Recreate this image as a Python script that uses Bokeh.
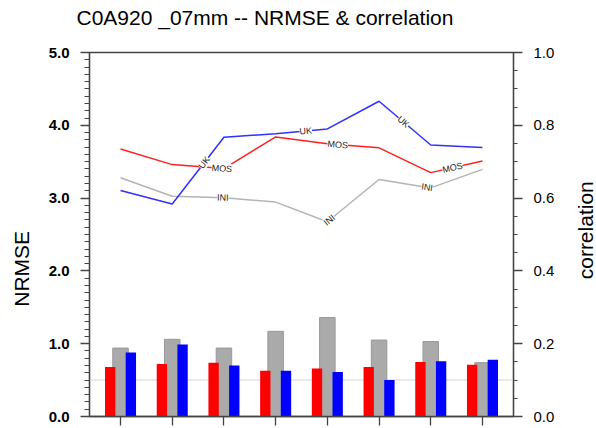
import math
import numpy as np
from bokeh.plotting import figure
from bokeh.layouts import row, column
from bokeh.models import (Range1d, LinearAxis, SingleIntervalTicker, FixedTicker,
                          PrintfTickFormatter, CustomJSTickFormatter, Span,
                          LabelSet, ColumnDataSource)
from bokeh.core.properties import value
from bokeh.transform import dodge
from bokeh.embed import file_html
from bokeh.resources import INLINE

# ---------------- data ----------------
categories = [1, 2, 3, 4, 5, 6, 7, 8]

# NRMSE (bars, left axis)
nrmse_mos = [0.68, 0.72, 0.74, 0.63, 0.66, 0.68, 0.75, 0.71]
nrmse_ini = [0.94, 1.06, 0.94, 1.17, 1.36, 1.05, 1.03, 0.74]
nrmse_uk = [0.88, 0.99, 0.70, 0.63, 0.61, 0.50, 0.76, 0.78]

# correlation (lines, right axis)
corr_mos = [0.735, 0.692, 0.681, 0.768, 0.749, 0.738, 0.670, 0.702]
corr_ini = [0.656, 0.605, 0.601, 0.589, 0.535, 0.651, 0.628, 0.679]
corr_uk = [0.621, 0.584, 0.767, 0.777, 0.790, 0.866, 0.746, 0.739]

# where the inline line labels sit (category coordinate)
label_pos_uk = [2.62, 4.58, 6.47]
label_pos_mos = [2.96, 5.20, 7.42]
label_pos_ini = [2.98, 5.04, 6.93]

title_text = "C0A920 _07mm -- NRMSE & correlation"
left_title = "NRMSE"
right_title = "correlation"

# ---------------- style ----------------
FONT = "Liberation Sans"
X0, X1 = 0.4, 8.6
FW, FH = 424, 364
BL, BR, BT, BB = 55, 50, 12, 11         # borders of the main plot
LW, RW, TH = 34, 32, 40                 # side strips
PW, PH = BL + FW + BR, BT + FH + BB
AX = "#444444"

p = figure(width=PW, height=PH,
           x_range=Range1d(X0, X1), y_range=Range1d(0, 5),
           output_backend="svg", toolbar_location=None, title=None,
           min_border_left=BL, min_border_right=BR,
           min_border_top=BT, min_border_bottom=BB)
p.extra_y_ranges = {"corr": Range1d(0, 1)}
p.xgrid.visible = False
p.ygrid.visible = False
p.outline_line_color = AX
p.outline_line_width = 1.3
p.background_fill_color = "white"
p.border_fill_color = "white"

# left axis
ya = p.yaxis[0]
ya.ticker = SingleIntervalTicker(interval=1, num_minor_ticks=10)
ya.formatter = PrintfTickFormatter(format="%.1f")
ya.major_tick_out = 9
ya.major_tick_in = 0
ya.minor_tick_out = 5
ya.minor_tick_in = 0
ya.major_label_standoff = 11
ya.major_label_text_font = FONT
ya.major_label_text_font_size = "15px"
ya.major_label_text_font_style = "bold"
ya.major_label_text_color = "black"
ya.axis_line_color = AX
ya.axis_line_width = 1.3
ya.major_tick_line_color = AX
ya.minor_tick_line_color = AX
ya.major_tick_line_width = 1.3

# right axis
ra = LinearAxis(y_range_name="corr",
                ticker=SingleIntervalTicker(interval=0.2, num_minor_ticks=4),
                formatter=PrintfTickFormatter(format="%.1f"))
ra.major_tick_out = 9
ra.major_tick_in = 0
ra.minor_tick_out = 4
ra.minor_tick_in = 0
ra.major_label_standoff = 11
ra.major_label_text_font = FONT
ra.major_label_text_font_size = "15px"
ra.major_label_text_color = "black"
ra.axis_line_color = AX
ra.axis_line_width = 1.3
ra.major_tick_line_color = AX
ra.minor_tick_line_color = AX
ra.major_tick_line_width = 1.3
p.add_layout(ra, "right")

# bottom axis (ticks only)
xa = p.xaxis[0]
xa.ticker = FixedTicker(ticks=categories, minor_ticks=[])
xa.formatter = CustomJSTickFormatter(code="return ''")
xa.major_tick_out = 9
xa.major_tick_in = 0
xa.major_label_standoff = 0
xa.major_label_text_font_size = "1px"
xa.axis_line_color = AX
xa.axis_line_width = 1.3
xa.major_tick_line_color = AX
xa.major_tick_line_width = 1.3

# reference line
p.add_layout(Span(location=0.5, dimension="width", line_color="#e2e2e2",
                  line_width=1.5, level="underlay"))

# bars
src = ColumnDataSource(dict(x=categories, mos=nrmse_mos, ini=nrmse_ini, uk=nrmse_uk))
p.vbar(x="x", top="ini", bottom=0, width=0.3, source=src,
       fill_color="#aaaaaa", line_color="#999999", line_width=1)
p.vbar(x=dodge("x", -0.2, range=p.x_range), top="mos", bottom=0, width=0.2,
       source=src, fill_color="#ff0000", line_color=None)
p.vbar(x=dodge("x", 0.2, range=p.x_range), top="uk", bottom=0, width=0.2,
       source=src, fill_color="#0000ff", line_color=None)

# lines
p.line(categories, corr_ini, y_range_name="corr", line_color="#b4b4b4", line_width=1.5)
p.line(categories, corr_mos, y_range_name="corr", line_color="#ff2020", line_width=1.5)
p.line(categories, corr_uk, y_range_name="corr", line_color="#3030ff", line_width=1.5)

# inline labels on lines
px_per_x = FW / (X1 - X0)
px_per_c = FH / 1.0


def label_rows(name, series, positions):
    xs, ys, ts, angs = [], [], [], []
    for xp in positions:
        i = min(int(math.floor(xp)) - 1, len(series) - 2)
        y = float(np.interp(xp, categories, series))
        dy = (series[i + 1] - series[i]) * px_per_c
        dx = 1.0 * px_per_x
        xs.append(xp)
        ys.append(y)
        ts.append(name)
        angs.append(math.atan2(dy, dx))
    return xs, ys, ts, angs


lx, ly, lt, la = [], [], [], []
for nm, ser, pos in (("UK", corr_uk, label_pos_uk),
                     ("MOS", corr_mos, label_pos_mos),
                     ("INI", corr_ini, label_pos_ini)):
    a, b, c, d = label_rows(nm, ser, pos)
    lx += a; ly += b; lt += c; la += d

lsrc = ColumnDataSource(dict(x=lx, y=ly, text=lt, angle=la))
p.add_layout(LabelSet(x="x", y="y", text="text", angle="angle", source=lsrc,
                      y_range_name="corr", text_align="center",
                      text_baseline="middle", text_font_size=value("9px"),
                      text_font=value(FONT), text_color="#222222",
                      background_fill_color="white"))


# ---------------- text strips ----------------
def strip(w, h):
    f = figure(width=w, height=h, x_range=Range1d(0, w), y_range=Range1d(0, h),
               x_axis_type=None, y_axis_type=None, output_backend="svg",
               toolbar_location=None, min_border=0, title=None)
    f.outline_line_color = None
    f.xgrid.visible = False
    f.ygrid.visible = False
    f.background_fill_color = "white"
    f.border_fill_color = "white"
    return f


top = strip(LW + PW + RW, TH)
top.text(x=[76], y=[TH - 17], text=[title_text], text_align="left",
         text_baseline="middle", text_font=value(FONT),
         text_font_size="21px", text_color="black")

left = strip(LW, PH)
left.text(x=[20.8], y=[PH - (270 - TH)], text=[left_title], angle=math.pi / 2,
          text_align="center", text_baseline="middle", text_font=value(FONT),
          text_font_size="21px", text_color="black")

right = strip(RW, PH)
right.text(x=[21.5], y=[PH - (229 - TH)], text=[right_title], angle=math.pi / 2,
           text_align="center", text_baseline="middle", text_font=value(FONT),
           text_font_size="21px", text_color="black")

layout = column(top, row(left, p, right, spacing=0), spacing=0)
open("out.html", "w").write(file_html(layout, INLINE))
